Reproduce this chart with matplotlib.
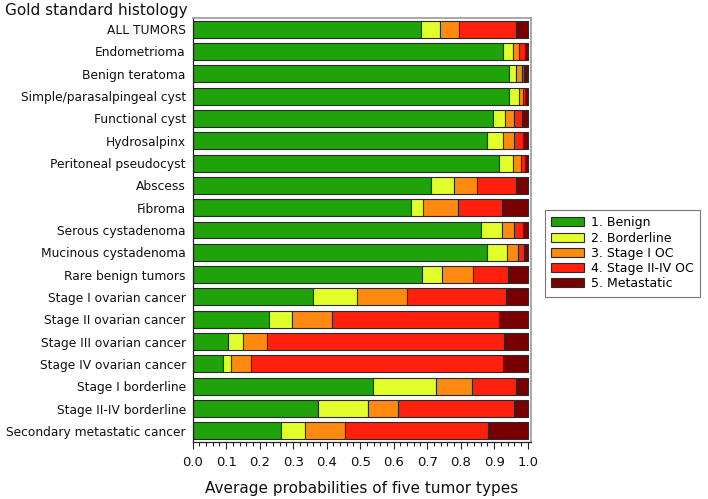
import matplotlib
matplotlib.use("Agg")
import matplotlib.pyplot as plt
import numpy as np
from matplotlib.ticker import MultipleLocator
from matplotlib.patches import Patch

categories = [
    "ALL TUMORS", "Endometrioma", "Benign teratoma", "Simple/parasalpingeal cyst",
    "Functional cyst", "Hydrosalpinx", "Peritoneal pseudocyst", "Abscess", "Fibroma",
    "Serous cystadenoma", "Mucinous cystadenoma", "Rare benign tumors",
    "Stage I ovarian cancer", "Stage II ovarian cancer", "Stage III ovarian cancer",
    "Stage IV ovarian cancer", "Stage I borderline", "Stage II-IV borderline",
    "Secondary metastatic cancer",
]

benign      = [0.681, 0.927, 0.943, 0.943, 0.896, 0.878, 0.914, 0.712, 0.652, 0.860, 0.879, 0.684, 0.359, 0.229, 0.104, 0.091, 0.538, 0.375, 0.263]
borderline  = [0.056, 0.028, 0.022, 0.030, 0.036, 0.049, 0.041, 0.069, 0.036, 0.064, 0.058, 0.060, 0.131, 0.068, 0.045, 0.024, 0.189, 0.149, 0.071]
stage1_oc   = [0.057, 0.020, 0.019, 0.012, 0.028, 0.032, 0.024, 0.069, 0.104, 0.035, 0.035, 0.094, 0.149, 0.120, 0.074, 0.059, 0.108, 0.089, 0.122]
stage2_4_oc = [0.172, 0.017, 0.006, 0.006, 0.022, 0.028, 0.013, 0.116, 0.132, 0.028, 0.017, 0.104, 0.295, 0.496, 0.706, 0.751, 0.131, 0.347, 0.425]
metastatic  = [0.034, 0.008, 0.010, 0.009, 0.018, 0.013, 0.008, 0.034, 0.076, 0.013, 0.011, 0.058, 0.066, 0.087, 0.071, 0.075, 0.034, 0.040, 0.119]

series_names = ["1. Benign", "2. Borderline", "3. Stage I OC", "4. Stage II-IV OC", "5. Metastatic"]
series = [benign, borderline, stage1_oc, stage2_4_oc, metastatic]
colors = ["#20A20A", "#E2FF2C", "#FF8A12", "#FF200E", "#780000"]

fig = plt.figure(figsize=(7.08, 4.99), dpi=100)
ax = fig.add_axes([192.7 / 708, 1 - 442 / 499, (531 - 192.7) / 708, (442 - 18) / 499])

y = np.arange(len(categories))
left = np.zeros(len(categories))
for vals, col, name in zip(series, colors, series_names):
    ax.barh(y, vals, left=left, height=0.76, color=col, edgecolor="#2a2a2a",
            linewidth=0.8, label=name)
    left = left + np.array(vals)

ax.set_ylim(len(categories) - 0.5, -0.5)
ax.set_xlim(0, 1.01)
ax.set_yticks(y)
ax.set_yticklabels(categories, fontsize=8.8, color="#111111")
ax.tick_params(axis="y", length=0, pad=5)
ax.xaxis.set_major_locator(MultipleLocator(0.1))
ax.xaxis.set_minor_locator(MultipleLocator(0.02))
ax.set_xticks(np.arange(0, 1.01, 0.1))
ax.set_xticklabels([f"{v:.1f}" for v in np.arange(0, 1.01, 0.1)], fontsize=9.5, color="#111111")
ax.tick_params(axis="x", which="major", length=5, width=0.8, color="#222222", pad=5)
ax.tick_params(axis="x", which="minor", length=3, width=0.8, color="#222222")
ax.set_xlabel("Average probabilities of five tumor types", fontsize=11, labelpad=9, color="#111111")

for s in ["top", "right"]:
    ax.spines[s].set_color("#9a9a9a")
    ax.spines[s].set_linewidth(1.2)
for s in ["left", "bottom"]:
    ax.spines[s].set_color("#222222")
    ax.spines[s].set_linewidth(0.9)

fig.text(5 / 708, 1 - 10 / 499, "Gold standard histology", fontsize=11, va="center", ha="left", color="#111111")

handles = [Patch(facecolor=c, edgecolor="#2a2a2a", linewidth=0.8) for c in colors]
leg = fig.legend(handles, series_names, loc="upper left", bbox_to_anchor=(545 / 708, 1 - 210 / 499),
                 fontsize=9, frameon=True, fancybox=False, edgecolor="#555555",
                 handlelength=2.6, handleheight=0.75, handletextpad=0.55, labelspacing=0.18,
                 borderpad=0.5, borderaxespad=0)
leg.get_frame().set_linewidth(0.8)

fig.savefig("out.png", dpi=100)
